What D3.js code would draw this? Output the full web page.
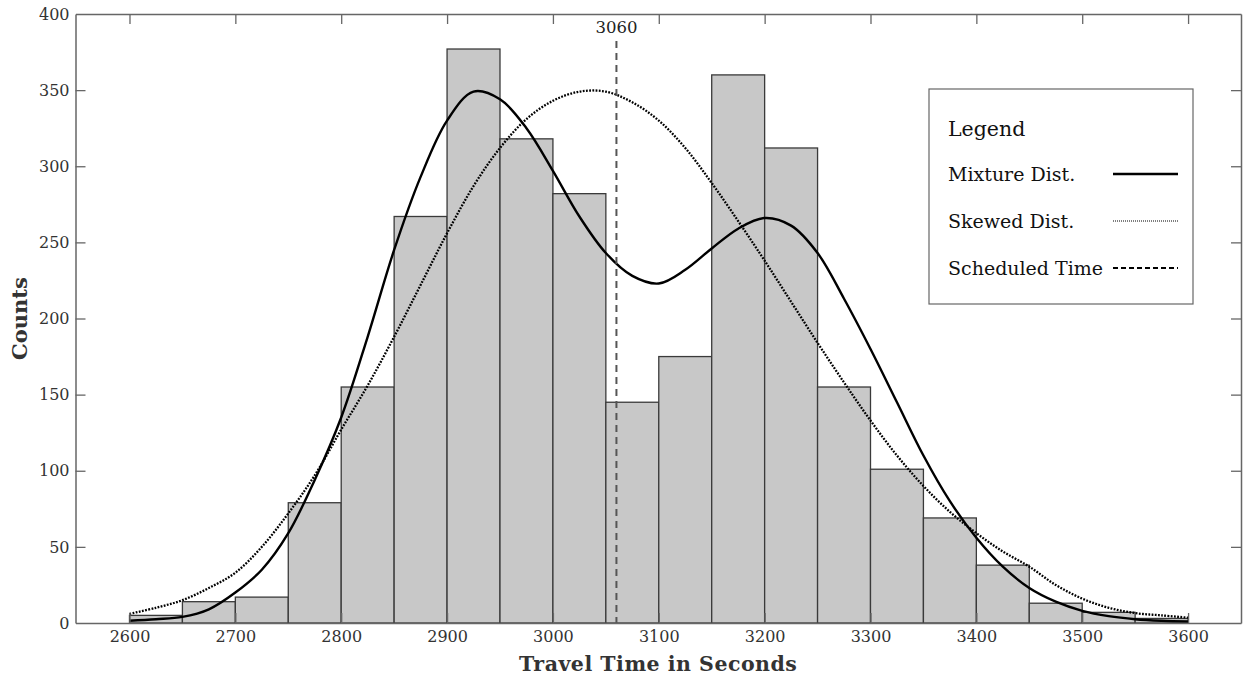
<!DOCTYPE html>
<html>
<head>
<meta charset="utf-8">
<script src="https://cdn.jsdelivr.net/npm/d3@7"></script>
<style>
  body { margin: 0; background: #fff; }
  svg { display: block; font-family: "DejaVu Serif", serif; }
</style>
</head>
<body>
<svg id="chart" width="1247" height="680"></svg>
<script>
// Histogram bins (50 s wide) and counts
const binStarts = [2600, 2650, 2700, 2750, 2800, 2850, 2900, 2950, 3000, 3050,
                   3100, 3150, 3200, 3250, 3300, 3350, 3400, 3450, 3500, 3550];
const counts = [5, 14, 17, 79, 155, 267, 377, 318, 282, 145,
                175, 360, 312, 155, 101, 69, 38, 13, 7, 3];

// Fitted curves
const curveX = [2600, 2625, 2650, 2675, 2700, 2725, 2750, 2775, 2800, 2825,
                2850, 2875, 2900, 2925, 2950, 2975, 3000, 3025, 3050, 3075,
                3100, 3125, 3150, 3175, 3200, 3225, 3250, 3275, 3300, 3325,
                3350, 3375, 3400, 3425, 3450, 3475, 3500, 3525, 3550, 3575, 3600];
const mixture = [1.5, 2.5, 4, 9, 20, 35, 59, 94, 135, 188,
                 245, 293, 330, 349, 344, 325, 297, 267, 243, 228,
                 223, 232, 246, 259, 266, 261, 243, 213, 180, 145,
                 110, 80, 56, 37, 23, 14, 8, 4.5, 2.5, 1.5, 1];
const skewed = [6, 10, 15, 23, 33, 50, 72, 97, 127, 156,
                188, 222, 256, 287, 312, 331, 343, 349, 349, 342,
                330, 312, 289, 264, 238, 211, 184, 158, 133, 110,
                90, 73, 59, 47, 37, 25, 16, 10, 6.5, 5, 3.5];

const scheduled = 3060;
const xTicks = [2600, 2700, 2800, 2900, 3000, 3100, 3200, 3300, 3400, 3500, 3600];
const yTicks = [0, 50, 100, 150, 200, 250, 300, 350, 400];

const svg = d3.select("#chart");
const m = { left: 75.5, right: 1241, top: 14, bottom: 623 };

const x = d3.scaleLinear().domain([2549, 3650]).range([m.left, m.right]);
const y = d3.scaleLinear().domain([0, 400]).range([m.bottom, m.top]);

// Bars
svg.append("g")
  .selectAll("rect")
  .data(binStarts)
  .join("rect")
  .attr("x", d => x(d))
  .attr("y", (d, i) => y(counts[i]))
  .attr("width", d => x(d + 50) - x(d))
  .attr("height", (d, i) => y(0) - y(counts[i]))
  .attr("fill", "#c8c8c8")
  .attr("stroke", "#3a3a3a")
  .attr("stroke-width", 1.3);

// Curves
const line = d3.line()
  .x((d, i) => x(curveX[i]))
  .y(d => y(d))
  .curve(d3.curveCatmullRom.alpha(0.5));

svg.append("path")
  .attr("d", line(skewed))
  .attr("fill", "none")
  .attr("stroke", "#000")
  .attr("stroke-width", 2.3)
  .attr("stroke-dasharray", "1.8,1.4");

svg.append("path")
  .attr("d", line(mixture))
  .attr("fill", "none")
  .attr("stroke", "#000")
  .attr("stroke-width", 2.4);

// Scheduled time
svg.append("line")
  .attr("x1", x(scheduled)).attr("x2", x(scheduled))
  .attr("y1", 41).attr("y2", m.bottom)
  .attr("stroke", "#555")
  .attr("stroke-width", 2)
  .attr("stroke-dasharray", "7,5");

svg.append("text")
  .attr("x", x(scheduled))
  .attr("y", 33)
  .attr("text-anchor", "middle")
  .attr("font-size", 16.5)
  .attr("fill", "#222")
  .text(scheduled);

// Axes (ticks pointing inward on all four sides)
const axisColor = "#666";
const fmt = d3.format("d");

const bottomAxis = svg.append("g")
  .attr("transform", `translate(0,${m.bottom})`)
  .call(d3.axisBottom(x).tickValues(xTicks).tickSizeInner(-10).tickSizeOuter(0).tickPadding(8).tickFormat(fmt));
const topAxis = svg.append("g")
  .attr("transform", `translate(0,${m.top})`)
  .call(d3.axisTop(x).tickValues(xTicks).tickSizeInner(-10).tickSizeOuter(0).tickFormat(""));
const leftAxis = svg.append("g")
  .attr("transform", `translate(${m.left},0)`)
  .call(d3.axisLeft(y).tickValues(yTicks).tickSizeInner(-10).tickSizeOuter(0).tickPadding(6).tickFormat(fmt));
const rightAxis = svg.append("g")
  .attr("transform", `translate(${m.right},0)`)
  .call(d3.axisRight(y).tickValues(yTicks).tickSizeInner(-10).tickSizeOuter(0).tickFormat(""));

[bottomAxis, topAxis, leftAxis, rightAxis].forEach(g => {
  g.select(".domain").attr("stroke", axisColor).attr("stroke-width", 1.5);
  g.selectAll(".tick line").attr("stroke", axisColor).attr("stroke-width", 1.3);
  g.selectAll(".tick text")
    .attr("font-family", "DejaVu Serif, serif")
    .attr("font-size", 16)
    .attr("fill", "#333");
});
// y ticks at 0 and 400 sit on the frame
leftAxis.selectAll(".tick line").filter(d => d === 0 || d === 400).remove();
rightAxis.selectAll(".tick line").filter(d => d === 0 || d === 400).remove();

// Axis titles
svg.append("text")
  .attr("x", (m.left + m.right) / 2)
  .attr("y", 671)
  .attr("text-anchor", "middle")
  .attr("font-size", 20.5)
  .attr("font-weight", "bold")
  .attr("fill", "#333")
  .attr("letter-spacing", 0.5)
  .text("Travel Time in Seconds");

svg.append("text")
  .attr("transform", `translate(27,${(m.top + m.bottom) / 2}) rotate(-90)`)
  .attr("text-anchor", "middle")
  .attr("font-size", 21)
  .attr("font-weight", "bold")
  .attr("fill", "#333")
  .text("Counts");

// Legend
const legend = svg.append("g").attr("transform", "translate(929,89)");
legend.append("rect")
  .attr("width", 264).attr("height", 215)
  .attr("fill", "#fff")
  .attr("stroke", "#666")
  .attr("stroke-width", 1.2);

legend.append("text")
  .attr("x", 19).attr("y", 47)
  .attr("font-size", 20.5)
  .attr("fill", "#111")
  .text("Legend");

const items = [
  { name: "Mixture Dist.", color: "#000", width: 2.4, dash: null },
  { name: "Skewed Dist.", color: "#555", width: 1.6, dash: "1,1" },
  { name: "Scheduled Time", color: "#000", width: 2, dash: "5,3" }
];

const item = legend.selectAll(".item")
  .data(items)
  .join("g")
  .attr("class", "item")
  .attr("transform", (d, i) => `translate(0,${92 + i * 47})`);

item.append("text")
  .attr("x", 19).attr("y", 0)
  .attr("font-size", 19)
  .attr("fill", "#111")
  .text(d => d.name);

item.append("line")
  .attr("x1", 184).attr("x2", 249)
  .attr("y1", -7).attr("y2", -7)
  .attr("stroke", d => d.color)
  .attr("stroke-width", d => d.width)
  .attr("stroke-dasharray", d => d.dash);
</script>
</body>
</html>
